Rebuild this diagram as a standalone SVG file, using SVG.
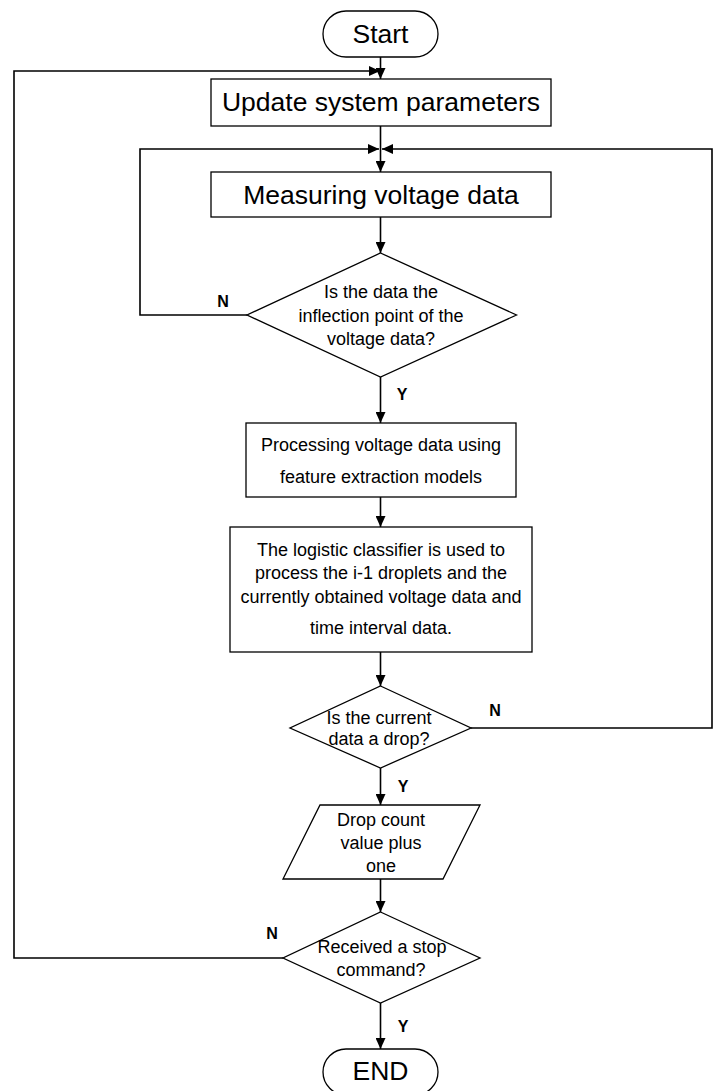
<svg xmlns="http://www.w3.org/2000/svg" width="713" height="1091" viewBox="0 0 713 1091">
<style>
  .shape { fill: #ffffff; stroke: #000000; stroke-width: 1.3; }
  .conn { fill: none; stroke: #000000; stroke-width: 1.6; }
  .big { font-family: "Liberation Sans", Arial, sans-serif; font-size: 26.5px; fill: #000000; text-anchor: middle; }
  .txt { font-family: "Liberation Sans", Arial, sans-serif; font-size: 18px; fill: #000000; text-anchor: middle; }
  .lbl { font-family: "Liberation Sans", Arial, sans-serif; font-size: 16px; font-weight: bold; fill: #000000; text-anchor: middle; }
</style>
<defs>
  <marker id="arrow" markerUnits="userSpaceOnUse" markerWidth="12" markerHeight="10" refX="11" refY="5" orient="auto">
    <path d="M0,0 L11,5 L0,10 Z" fill="#000000"/>
  </marker>
</defs>
<rect width="713" height="1091" fill="#ffffff"/>

<g id="connectors">
  <line class="conn" x1="380.5" y1="57" x2="380.5" y2="79" marker-end="url(#arrow)"/>
  <polyline class="conn" points="283,958 14,958 14,71 380,71" marker-end="url(#arrow)"/>
  <line class="conn" x1="380.5" y1="126" x2="380.5" y2="172" marker-end="url(#arrow)"/>
  <polyline class="conn" points="247,315 140,315 140,149 379,149" marker-end="url(#arrow)"/>
  <polyline class="conn" points="471,728 712,728 712,149 382,149" marker-end="url(#arrow)"/>
  <line class="conn" x1="380.5" y1="217" x2="380.5" y2="253" marker-end="url(#arrow)"/>
  <line class="conn" x1="380.5" y1="377" x2="380.5" y2="423" marker-end="url(#arrow)"/>
  <line class="conn" x1="380.5" y1="497" x2="380.5" y2="527" marker-end="url(#arrow)"/>
  <line class="conn" x1="380.5" y1="652" x2="380.5" y2="686" marker-end="url(#arrow)"/>
  <line class="conn" x1="380.5" y1="768" x2="380.5" y2="805" marker-end="url(#arrow)"/>
  <line class="conn" x1="380.5" y1="879" x2="380.5" y2="912" marker-end="url(#arrow)"/>
  <line class="conn" x1="380.5" y1="1003" x2="380.5" y2="1049" marker-end="url(#arrow)"/>
  <text class="lbl" x="223" y="307">N</text>
  <text class="lbl" x="402" y="400">Y</text>
  <text class="lbl" x="495" y="716">N</text>
  <text class="lbl" x="403" y="792">Y</text>
  <text class="lbl" x="272" y="939">N</text>
  <text class="lbl" x="403" y="1032">Y</text>
</g>

<g id="start">
  <rect class="shape" x="323" y="11" width="115" height="46" rx="23" ry="23"/>
  <text class="big" x="380.5" y="43">Start</text>
</g>

<g id="update">
  <rect class="shape" x="211" y="79" width="340" height="47"/>
  <text class="big" x="381" y="111">Update system parameters</text>
</g>

<g id="measure">
  <rect class="shape" x="211" y="172" width="340" height="45"/>
  <text class="big" x="381" y="204">Measuring voltage data</text>
</g>

<g id="decision-inflection">
  <polygon class="shape" points="380.5,253 516.5,315 380.5,377 247,315"/>
  <text class="txt" x="381" y="298">Is the data the</text>
  <text class="txt" x="381" y="322">inflection point of the</text>
  <text class="txt" x="381" y="345">voltage data?</text>
</g>

<g id="processing">
  <rect class="shape" x="246" y="423" width="270" height="74"/>
  <text class="txt" x="381" y="451">Processing voltage data using</text>
  <text class="txt" x="381" y="483">feature extraction models</text>
</g>

<g id="logistic">
  <rect class="shape" x="230" y="527" width="302" height="125"/>
  <text class="txt" x="381" y="556">The logistic classifier is used to</text>
  <text class="txt" x="381" y="579">process the i-1 droplets and the</text>
  <text class="txt" x="381" y="603">currently obtained voltage data and</text>
  <text class="txt" x="381" y="634">time interval data.</text>
</g>

<g id="decision-drop">
  <polygon class="shape" points="380.5,686 471,728 380.5,768 290,728"/>
  <text class="txt" x="379" y="724">Is the current</text>
  <text class="txt" x="379" y="745">data a drop?</text>
</g>

<g id="count">
  <polygon class="shape" points="320,805 480,805 443,879 283,879"/>
  <text class="txt" x="381" y="826">Drop count</text>
  <text class="txt" x="381" y="849">value plus</text>
  <text class="txt" x="381" y="872">one</text>
</g>

<g id="decision-stop">
  <polygon class="shape" points="380.5,912 480,958 380.5,1003 283,958"/>
  <text class="txt" x="382" y="953">Received a stop</text>
  <text class="txt" x="381" y="976">command?</text>
</g>

<g id="end">
  <rect class="shape" x="323" y="1049" width="115" height="46" rx="23" ry="23"/>
  <text class="big" x="380.5" y="1080">END</text>
</g>
</svg>
